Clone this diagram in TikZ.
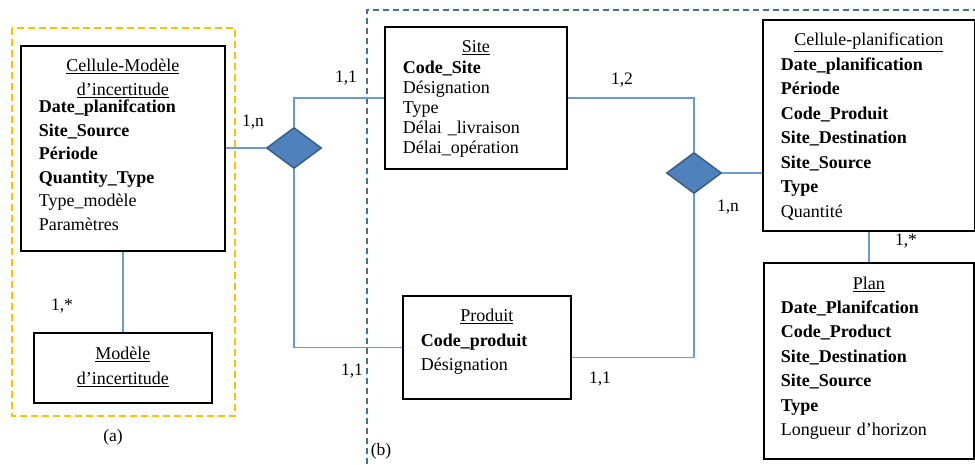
\documentclass[tikz,border=0pt]{standalone}
\usepackage{fontspec}
\setmainfont{Liberation Serif}
\usepackage{tikz}
\usepackage{xcolor}
\usetikzlibrary{shapes.geometric}
\definecolor{RelBlue}{RGB}{79,129,189}
\definecolor{RelBorder}{RGB}{56,93,138}
\definecolor{LinkBlue}{RGB}{112,152,208}
\definecolor{FrameBlue}{RGB}{65,113,156}
\definecolor{FrameOrange}{RGB}{255,192,0}
\tikzset{%
	entity/.style={draw=black, line width=1.6pt, anchor=north west,
		inner ysep=0pt, inner xsep=18pt, align=left,
		font=\fontsize{18}{24.5}\selectfont},
	relation/.style={diamond, draw=RelBorder, fill=RelBlue,
		line width=1.5pt, inner sep=0pt,
		minimum width=55pt, minimum height=41pt},
	card/.style={inner sep=0pt, font=\fontsize{17.5}{20}\selectfont},
	link/.style={draw=LinkBlue, line width=1.5pt},
	groupA/.style={draw=FrameOrange, line width=2pt, dash pattern=on 7pt off 4pt},
	groupB/.style={draw=FrameBlue, line width=2pt, dash pattern=on 6pt off 4pt},
}

\begin{document}
\begin{tikzpicture}[x=1pt,y=-1pt]
    \useasboundingbox (0,0) rectangle (975,464);

    % (a)
    \draw[groupA] (12,28) rectangle (235,416);
    \node [entity, text width=168pt, text height=26pt, text depth=179pt,
        font=\fontsize{18}{23.5}\selectfont] (CelluleModele) at (20,45)
        {{\centering\underline{Cellule-Modèle}\\\underline{d'incertitude}\par}\vspace{-6pt}
        \textbf{Date\_planifcation}\\
        \textbf{Site\_Source}\\
        \textbf{Période}\\
        \textbf{Quantity\_Type}\\
        Type\_modèle\\
        Paramètres};
    \node [entity, text width=142pt, text height=27pt, text depth=43pt,
        font=\fontsize{18}{25}\selectfont] (ModeleInc) at (33,332)
        {{\centering\underline{Modèle}\\\underline{d'incertitude}\par}};
    \node [card] (LabelA) at (113,437) {(a)};

    % (b)
    \draw[groupB] (367,464) -- (367,10) -- (975,10);
    \node [entity, text width=146pt, text height=26pt, text depth=116pt,
        font=\fontsize{18}{20.2}\selectfont] (Site) at (384,26)
        {{\centering\underline{Site}\par}
        \textbf{Code\_Site}\\
        Désignation\\
        Type\\
        Délai \_livraison\\
        Délai\_opération};
    \node [entity, text width=132pt, text height=26pt, text depth=77pt] (Produit) at (402,295)
        {{\centering\underline{Produit}\par}
        \textbf{Code\_produit}\\
        Désignation};
    \node [entity, text width=176pt, text height=26pt, text depth=185pt] (CellulePlan) at (762,19)
        {{\centering\underline{Cellule-planification}\par}
        \textbf{Date\_planification}\\
        \textbf{Période}\\
        \textbf{Code\_Produit}\\
        \textbf{Site\_Destination}\\
        \textbf{Site\_Source}\\
        \textbf{Type}\\
        Quantité};
    \node [entity, text width=176pt, inner xsep=17pt, text height=27pt, text depth=169pt] (Plan) at (763,262)
        {{\centering\underline{Plan}\par}\vspace{-1pt}
        \textbf{Date\_Planifcation}\\
        \textbf{Code\_Product}\\
        \textbf{Site\_Destination}\\
        \textbf{Site\_Source}\\
        \textbf{Type}\\
        Longueur d'horizon};
    \node [card] (LabelB) at (381,451) {(b)};

    \node [relation] (RelLeft) at (294,148) {};
    \node [relation] (RelRight) at (694,173) {};

    \draw[link] (CelluleModele.east |- RelLeft.west) -- (RelLeft.west);
    \draw[link] (RelLeft.north) |- (Site.west);
    \draw[link] (RelLeft.south) |- (Produit.west);
    \draw[link] (Site.east) -| (RelRight.north);
    \draw[link] (RelRight.east) -- (RelRight.east -| CellulePlan.west);
    \draw[link] (RelRight.south) |- (Produit.-7);
    \draw[link] (CelluleModele.south) -- (ModeleInc.north);
    \draw[link] (CellulePlan.south) -- (Plan.north);

    \node [card] (CardCM) at (253,122) {1,n};
    \node [card] (CardSite) at (346,78) {1,1};
    \node [card] (CardProdL) at (352,371) {1,1};
    \node [card] (CardSiteR) at (622,80) {1,2};
    \node [card] (CardCP) at (728,207) {1,n};
    \node [card] (CardProdR) at (600,379) {1,1};
    \node [card] (CardPlan) at (906,241) {1,*};
    \node [card] (CardMod) at (62,306) {1,*};
\end{tikzpicture}
\end{document}
